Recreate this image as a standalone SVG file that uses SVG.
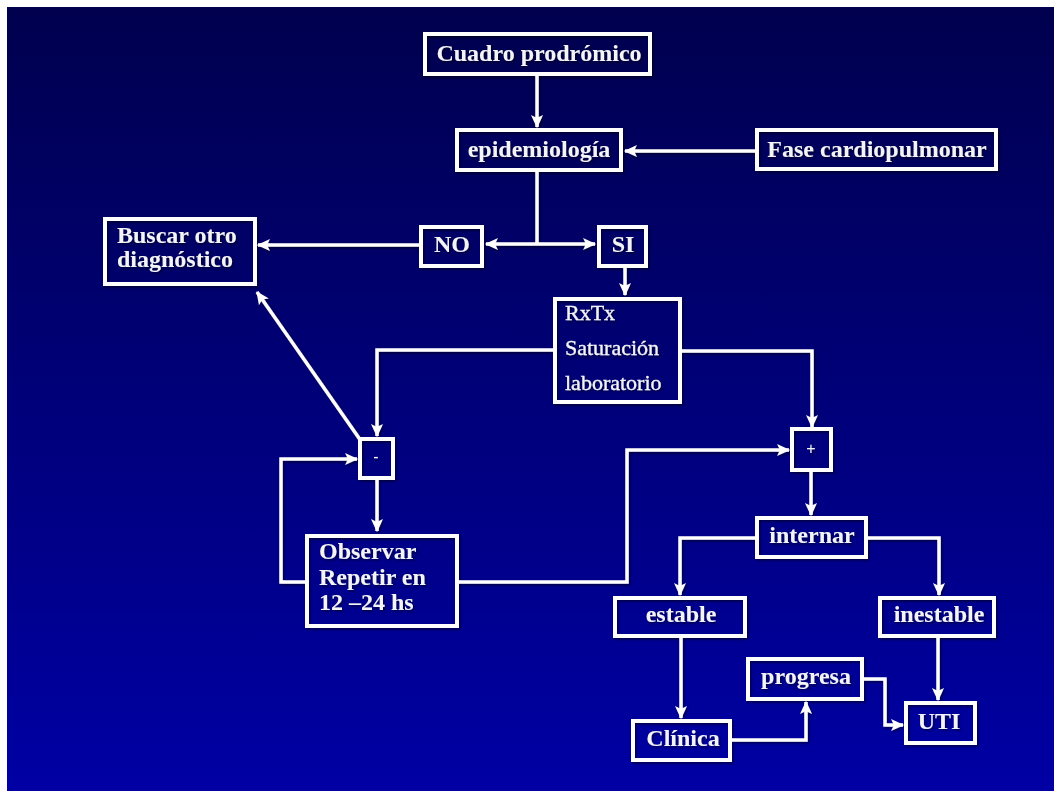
<svg xmlns="http://www.w3.org/2000/svg" width="1054" height="791" viewBox="0 0 1054 791">
  <defs>
    <linearGradient id="bg" x1="0" y1="0" x2="0" y2="1">
      <stop offset="0" stop-color="#00004e"/>
      <stop offset="1" stop-color="#0000a4"/>
    </linearGradient>
    <marker id="arrow" markerUnits="userSpaceOnUse" markerWidth="14" markerHeight="14" refX="12" refY="7" orient="auto">
      <path d="M0,1 L13,7 L0,13 L3,7 z" fill="#ffffff"/>
    </marker>
    <filter id="shadow" x="-5%" y="-5%" width="110%" height="110%">
      <feDropShadow dx="1.5" dy="1.5" stdDeviation="0.8" flood-color="#000000" flood-opacity="0.55"/>
    </filter>
  </defs>
  <style>
    .box { fill: none; stroke: #ffffff; stroke-width: 4; }
    .lbl { font-family: "Liberation Serif", "Times New Roman", serif; font-size: 24px; font-weight: bold; fill: #f4f4f6; }
    .mid { text-anchor: middle; }
    .plain { font-family: "Liberation Serif", "Times New Roman", serif; font-size: 22px; font-weight: normal; fill: #f4f4f6; stroke: #f4f4f6; stroke-width: 0.3; }
    .sign { font-family: "Liberation Sans", Arial, sans-serif; font-size: 16px; fill: #f4f4f6; text-anchor: middle; }
    .wire { fill: none; stroke: #ffffff; stroke-width: 3.5; }
    .arr { marker-end: url(#arrow); }
  </style>

  <rect x="0" y="0" width="1054" height="791" fill="#ffffff"/>
  <rect x="7" y="7" width="1047" height="784" fill="url(#bg)"/>

  <g filter="url(#shadow)">
    <!-- connectors -->
    <g id="connectors">
      <path class="wire arr" d="M537,76 V127"/>
      <path class="wire arr" d="M755,151 H625"/>
      <path class="wire" d="M537,172 V244"/>
      <path class="wire arr" d="M537,244 H486"/>
      <path class="wire arr" d="M537,244 H595"/>
      <path class="wire arr" d="M419,245 H258"/>
      <path class="wire arr" d="M625,268 V295"/>
      <path class="wire arr" d="M553,350 H377 V436"/>
      <path class="wire arr" d="M682,351 H812 V427"/>
      <path class="wire arr" d="M361,441 L257,292"/>
      <path class="wire arr" d="M377,480 V531"/>
      <path class="wire arr" d="M305,582 H281 V459 H357"/>
      <path class="wire arr" d="M459,582 H627 V450 H789"/>
      <path class="wire arr" d="M811,472 V515"/>
      <path class="wire arr" d="M755,538 H680 V595"/>
      <path class="wire arr" d="M868,538 H939 V595"/>
      <path class="wire arr" d="M681,638 V718"/>
      <path class="wire arr" d="M732,740 H806 V702"/>
      <path class="wire arr" d="M864,679 H885 V725 H903"/>
      <path class="wire arr" d="M938,638 V700"/>
    </g>

    <!-- nodes -->
    <g id="cuadro">
      <rect class="box" x="425" y="34" width="225" height="40"/>
      <text class="lbl mid" x="539" y="61">Cuadro prodrómico</text>
    </g>
    <g id="epidemiologia">
      <rect class="box" x="457" y="130" width="164" height="40"/>
      <text class="lbl mid" x="539" y="157">epidemiología</text>
    </g>
    <g id="fase">
      <rect class="box" x="757" y="130" width="239" height="39"/>
      <text class="lbl mid" x="877" y="157">Fase cardiopulmonar</text>
    </g>
    <g id="buscar">
      <rect class="box" x="105" y="219" width="150" height="65"/>
      <text class="lbl" x="117" y="243">Buscar otro</text>
      <text class="lbl" x="117" y="267">diagnóstico</text>
    </g>
    <g id="no">
      <rect class="box" x="421" y="227" width="61" height="39"/>
      <text class="lbl mid" x="452" y="252">NO</text>
    </g>
    <g id="si">
      <rect class="box" x="599" y="227" width="47" height="39"/>
      <text class="lbl mid" x="623" y="252">SI</text>
    </g>
    <g id="rxtx">
      <rect class="box" x="555" y="299" width="125" height="103"/>
      <text class="plain" x="565" y="320">RxTx</text>
      <text class="plain" x="565" y="355">Saturación</text>
      <text class="plain" x="565" y="390">laboratorio</text>
    </g>
    <g id="negativo">
      <rect class="box" x="360" y="439" width="33" height="39"/>
      <text class="sign" x="376" y="462">-</text>
    </g>
    <g id="positivo">
      <rect class="box" x="792" y="429" width="39" height="41"/>
      <text class="sign" x="811" y="454">+</text>
    </g>
    <g id="observar">
      <rect class="box" x="307" y="536" width="150" height="90"/>
      <text class="lbl" x="319" y="559">Observar</text>
      <text class="lbl" x="319" y="585">Repetir en</text>
      <text class="lbl" x="319" y="610">12 –24 hs</text>
    </g>
    <g id="internar">
      <rect class="box" x="757" y="518" width="109" height="39"/>
      <text class="lbl mid" x="812" y="543">internar</text>
    </g>
    <g id="estable">
      <rect class="box" x="615" y="598" width="130" height="38"/>
      <text class="lbl mid" x="681" y="622">estable</text>
    </g>
    <g id="inestable">
      <rect class="box" x="880" y="598" width="114" height="38"/>
      <text class="lbl mid" x="939" y="622">inestable</text>
    </g>
    <g id="progresa">
      <rect class="box" x="748" y="659" width="114" height="40"/>
      <text class="lbl mid" x="806" y="684">progresa</text>
    </g>
    <g id="clinica">
      <rect class="box" x="633" y="721" width="97" height="39"/>
      <text class="lbl mid" x="683" y="746">Clínica</text>
    </g>
    <g id="uti">
      <rect class="box" x="906" y="703" width="69" height="40"/>
      <text class="lbl mid" x="939" y="729">UTI</text>
    </g>
  </g>
</svg>
